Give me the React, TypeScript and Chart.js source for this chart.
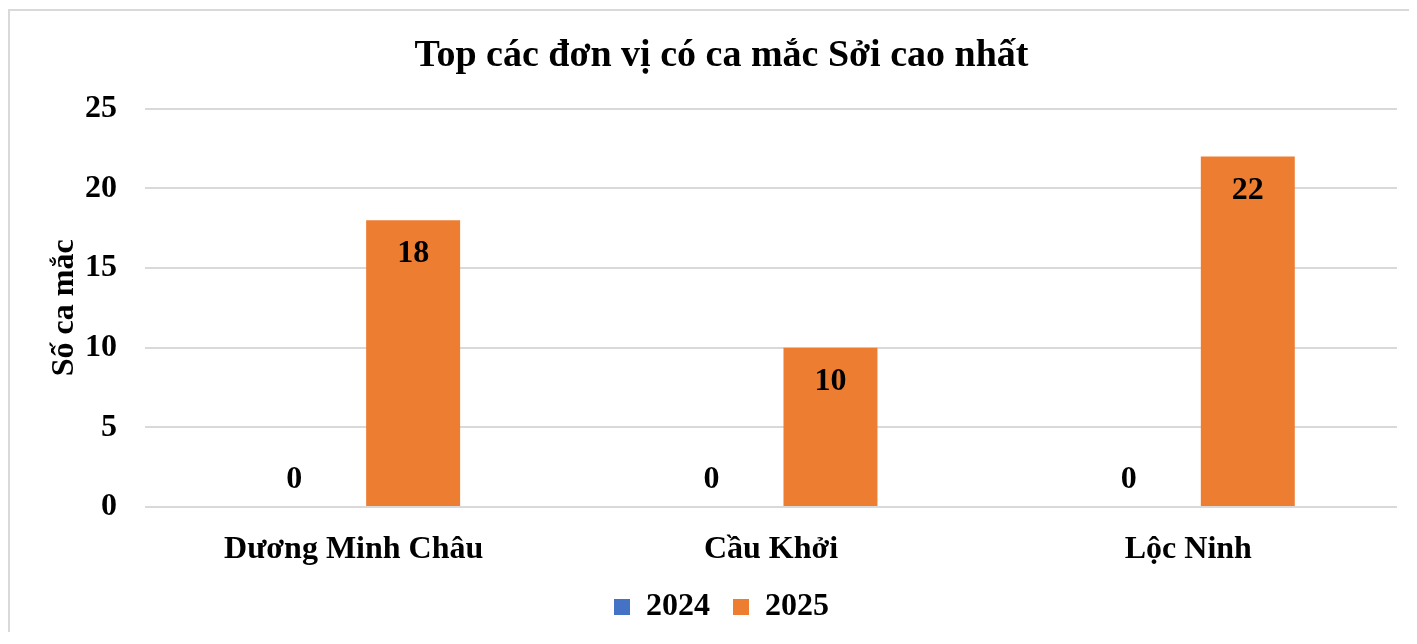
import React, { useEffect, useRef } from "react";
import { Chart, registerables } from "chart.js";

Chart.register(...registerables);

const categories = ["Dương Minh Châu", "Cầu Khởi", "Lộc Ninh"];
const series2024 = [0, 0, 0];
const series2025 = [18, 10, 22];
const seriesLabels = ["2024", "2025"];
const yTicks = [0, 5, 10, 15, 20, 25];

const FONT = '"Liberation Serif", "Times New Roman", serif';

const dataLabelPlugin = {
  id: "dataLabels",
  afterDatasetsDraw(chart: any) {
    const ctx = chart.ctx;
    ctx.save();
    ctx.font = `bold 32px ${FONT}`;
    ctx.fillStyle = "#000";
    ctx.textAlign = "center";
    ctx.textBaseline = "middle";
    chart.data.datasets.forEach((ds: any, i: number) => {
      const meta = chart.getDatasetMeta(i);
      meta.data.forEach((el: any, j: number) => {
        const v = ds.data[j];
        const y = v > 0 ? el.y + 34 : el.base - 27;
        ctx.fillText(String(v), el.x, y);
      });
    });
    ctx.restore();
  },
};

export default function App() {
  const ref = useRef<HTMLCanvasElement | null>(null);
  useEffect(() => {
    document.documentElement.style.overflow = "hidden";
    document.body.style.overflow = "hidden";
    if (!ref.current) return;
    const chart = new Chart(ref.current, {
      type: "bar",
      data: {
        labels: categories,
        datasets: [
          {
            label: seriesLabels[0],
            data: series2024,
            backgroundColor: "#4472C4",
            borderWidth: 0,
            categoryPercentage: 0.57,
            barPercentage: 0.79,
          },
          {
            label: seriesLabels[1],
            data: series2025,
            backgroundColor: "#ED7D31",
            borderWidth: 0,
            categoryPercentage: 0.57,
            barPercentage: 0.79,
          },
        ],
      },
      options: {
        responsive: false,
        animation: false,
        layout: { padding: { left: 36, right: 20, top: 0, bottom: 0 } },
        plugins: {
          title: {
            display: true,
            text: "Top các đơn vị có ca mắc Sởi cao nhất",
            color: "#000",
            font: { family: FONT, size: 38, weight: "bold" },
            padding: { top: 22, bottom: 30 },
          },
          legend: {
            position: "bottom",
            labels: {
              color: "#000",
              font: { family: FONT, size: 32, weight: "bold" },
              boxWidth: 16,
              boxHeight: 16,
              padding: 23,
            },
          },
          tooltip: { enabled: false },
        },
        scales: {
          x: {
            grid: { display: false, drawTicks: false },
            border: { display: false },
            ticks: {
              color: "#000",
              font: { family: FONT, size: 32, weight: "bold" },
              padding: 24,
            },
            afterFit: (s: any) => {
              s.height = 61;
            },
          },
          y: {
            min: 0,
            max: 25,
            afterBuildTicks: (s: any) => {
              s.ticks = yTicks.map((v) => ({ value: v }));
            },
            grid: { color: "#d9d9d9", lineWidth: 2, drawTicks: false },
            border: { display: false },
            ticks: {
              color: "#000",
              font: { family: FONT, size: 32, weight: "bold" },
              padding: 28,
            },
            title: {
              display: true,
              text: "Số ca mắc",
              color: "#000",
              font: { family: FONT, size: 32, weight: "bold" },
              padding: { top: 0, bottom: 0 },
            },
            afterFit: (s: any) => {
              s.width = 99;
            },
          },
        },
      },
      plugins: [dataLabelPlugin],
    });
    return () => chart.destroy();
  }, []);

  return (
    <div
      style={{
        position: "relative",
        top: 1,
        width: 1409,
        height: 624,
        borderLeft: "2px solid #d9d9d9",
        borderTop: "2px solid #d9d9d9",
        boxSizing: "border-box",
        background: "#fff",
      }}
    >
      <canvas
        ref={ref}
        width={1407}
        height={622}
        style={{ display: "block", width: 1407, height: 622 }}
      />
    </div>
  );
}
